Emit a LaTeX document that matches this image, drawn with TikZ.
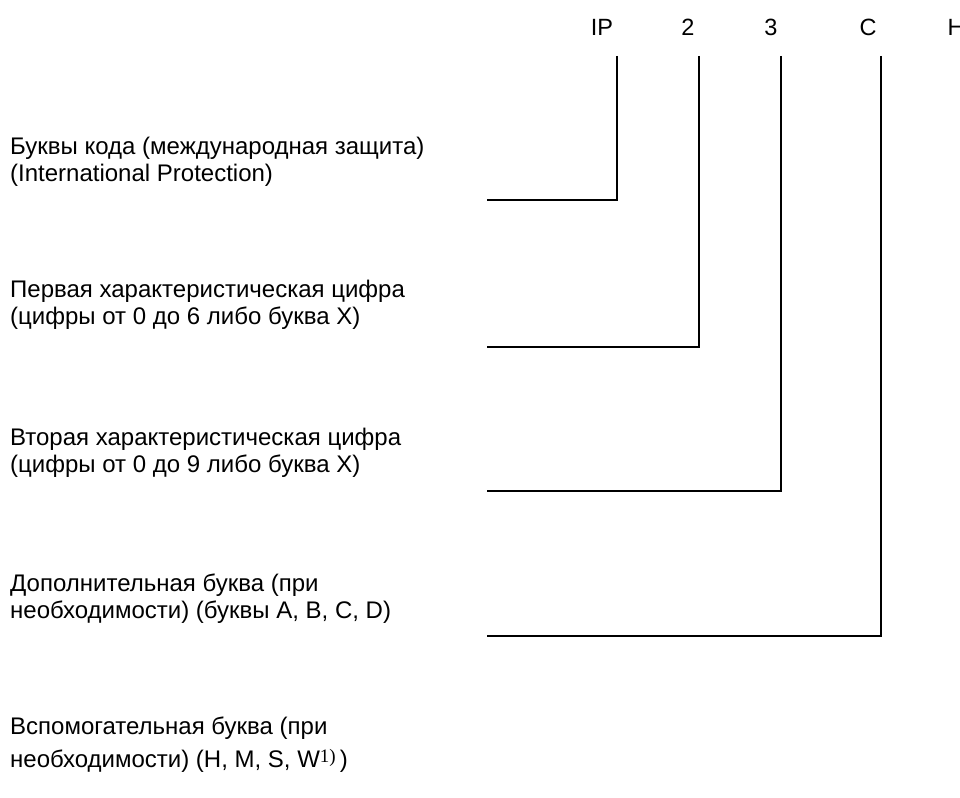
\documentclass[tikz,border=0pt]{standalone}
\usepackage{fontspec}
\setmainfont{Liberation Sans}
\newfontfamily\serifsup{Liberation Serif}
\newcommand{\supone}{\raisebox{5pt}{\serifsup\fontsize{19}{19}\selectfont 1)}}
\begin{document}
\begin{tikzpicture}[x=1pt,y=-1pt,
  lbl/.style={inner sep=0pt, anchor=base west, align=left, font=\fontsize{24}{26.5}\selectfont},
  code/.style={inner sep=0pt, anchor=base, font=\fontsize{23.5}{26}\selectfont},
  leader/.style={line width=2pt, line join=miter}]
\useasboundingbox (0,0) rectangle (960,797);
% top code letters
\node[code] (ip) at (602,36) {IP};
\node[code] (two) at (688,36) {2};
\node[code] (three) at (771,36) {3};
\node[code] (c) at (868,36) {C};
\node[code] (h) at (956,36) {H};
% descriptions (node base = baseline of last line)
\node[lbl] (d1) at (10,181) {Буквы кода (международная защита)\\(International Protection)};
\node[lbl] (d2) at (10,324) {Первая характеристическая цифра\\(цифры от 0 до 6 либо буква X)};
\node[lbl] (d3) at (10,472) {Вторая характеристическая цифра\\(цифры от 0 до 9 либо буква X)};
\node[lbl] (d4) at (10,618) {Дополнительная буква (при\\необходимости) (буквы A, B, C, D)};
\node[lbl, font=\fontsize{24}{33}\selectfont] (d5) at (10,767) {Вспомогательная буква (при\\необходимости) (H, M, S, W\supone\,)};
% leader line ends
\coordinate (ipTop) at (617,56);
\coordinate (twoTop) at (699,56);
\coordinate (threeTop) at (781,56);
\coordinate (cTop) at (881,56);
\coordinate (ipEnd) at (487,200);
\coordinate (twoEnd) at (487,347);
\coordinate (threeEnd) at (487,491);
\coordinate (cEnd) at (487,636);
\draw[leader] (ipTop) |- (ipEnd);
\draw[leader] (twoTop) |- (twoEnd);
\draw[leader] (threeTop) |- (threeEnd);
\draw[leader] (cTop) |- (cEnd);
\end{tikzpicture}
\end{document}
